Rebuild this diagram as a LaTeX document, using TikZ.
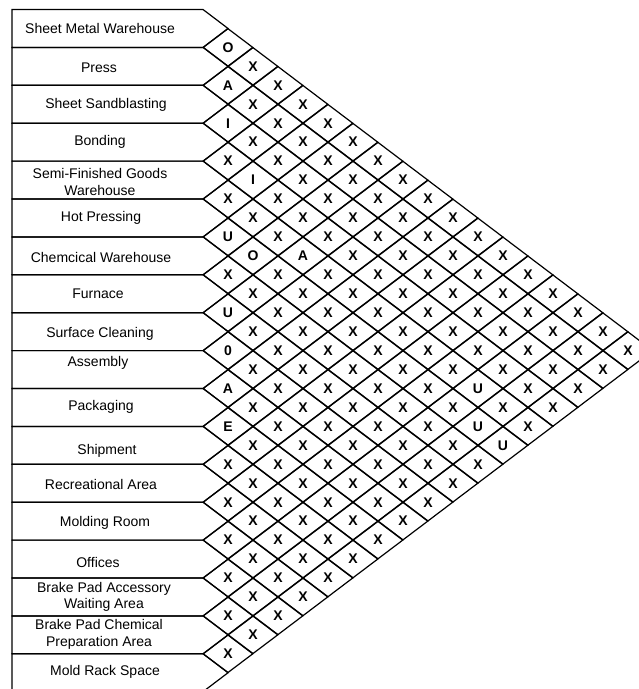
\documentclass[tikz,border=0pt]{standalone}
\usepackage{fontspec}
\setmainfont{Liberation Sans}
\usetikzlibrary{shapes.geometric}
\begin{document}
\begin{tikzpicture}[x=1pt,y=-1pt,
  deptbox/.style={draw=black,line width=1.2pt,line join=miter},
  depttext/.style={font=\fontsize{14}{16.5}\selectfont,align=center,inner sep=0pt},
  relcell/.style={draw=black,line width=1.2pt,diamond,minimum width=50pt,minimum height=37.9pt,inner sep=0pt,font=\fontsize{14}{15}\selectfont\bfseries}]
\useasboundingbox (0,0) rectangle (639,689);
% department rows
\foreach \name/\tx/\ty [count=\i from 0] in {
 {Sheet Metal Warehouse}/100/28,
 {Press}/99/68,
 {Sheet Sandblasting}/106/105,
 {Bonding}/100/142,
 {Semi-Finished Goods\\Warehouse}/100/182,
 {Hot Pressing}/101/218,
 {Chemcical Warehouse}/101/257,
 {Furnace}/98/294,
 {Surface Cleaning}/100/334,
 {Assembly}/98/363,
 {Packaging}/101/407,
 {Shipment}/107/451,
 {Recreational Area}/101/484,
 {Molding Room}/105/523,
 {Offices}/98/562,
 {Brake Pad Accessory\\Waiting Area}/104/597,
 {Brake Pad Chemical\\Preparation Area}/99/634.5,
 {Mold Rack Space}/105/672}
{
 \pgfmathsetmacro{\ya}{9.5+37.9*\i}
 \pgfmathsetmacro{\yb}{\ya+37.9}
 \pgfmathsetmacro{\ym}{\ya+18.95}
 \draw[deptbox] (12,\ya) -- (203,\ya) -- (228,\ym) -- (203,\yb) -- (12,\yb) -- cycle;
 \node[depttext] (dept\i) at (\tx,\ty) {\name};
}
% relationship cells, column k = j - i
\foreach \k/\labs in {
 1/{O,A,I,X,X,U,X,U,0,A,E,X,X,X,X,X,X},
 2/{X,X,X,I,X,O,X,X,X,X,X,X,X,X,X,X},
 3/{X,X,X,X,X,X,X,X,X,X,X,X,X,X,X},
 4/{X,X,X,X,A,X,X,X,X,X,X,X,X,X},
 5/{X,X,X,X,X,X,X,X,X,X,X,X,X},
 6/{X,X,X,X,X,X,X,X,X,X,X,X},
 7/{X,X,X,X,X,X,X,X,X,X,X},
 8/{X,X,X,X,X,X,X,X,X,X},
 9/{X,X,X,X,X,X,X,X,X},
 10/{X,X,X,X,X,X,X,X},
 11/{X,X,X,X,U,U,X},
 12/{X,X,X,X,X,U},
 13/{X,X,X,X,X},
 14/{X,X,X,X},
 15/{X,X,X},
 16/{X,X},
 17/{X}}
{
 \foreach \lab [count=\i from 0] in \labs {
  \pgfmathtruncatemacro{\j}{\i+\k}
  \pgfmathsetmacro{\cx}{203+25*\k}
  \pgfmathsetmacro{\cy}{9.5+37.9*(\i+\k/2+0.5)}
  \node[relcell] (rel-\i-\j) at (\cx,\cy) {\lab};
 }
}
\end{tikzpicture}
\end{document}
